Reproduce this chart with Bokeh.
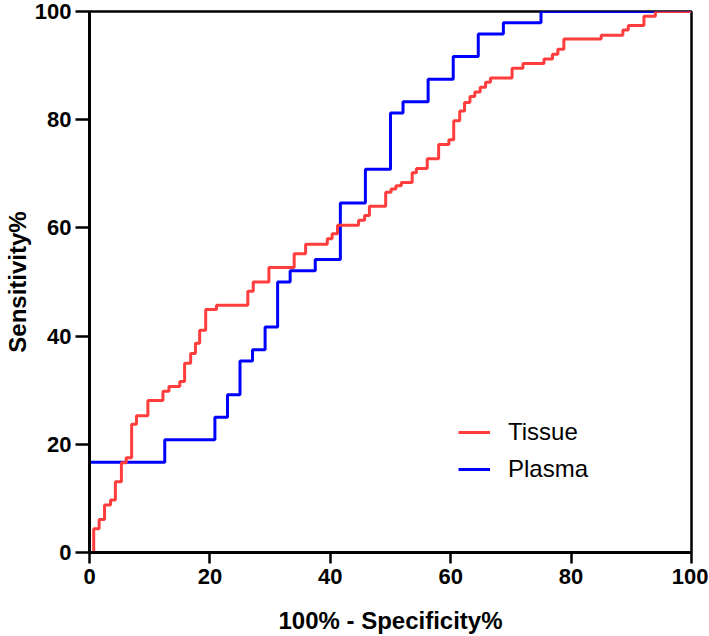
from bokeh.plotting import figure
from bokeh.models import Range1d, Legend, LegendItem, FixedTicker
from bokeh.embed import file_html
from bokeh.resources import INLINE

# ROC corner points (100% - Specificity%, Sensitivity%)
tissue_fpr = [0, 0.7, 1.6, 2.5, 3.5, 4.3, 5.3, 6.1, 7.0, 7.8, 9.7, 12.2, 13.2, 15.0, 15.8,
              16.8, 17.6, 18.3, 19.3, 21.1, 26.3, 27.2, 29.8, 34.0, 35.9, 39.5, 40.3, 41.2,
              44.7, 45.7, 46.5, 49.2, 50.1, 50.9, 51.8, 53.6, 54.3, 56.1, 58.0, 59.7, 60.5,
              61.5, 62.3, 63.2, 64.0, 64.9, 65.8, 66.6, 70.2, 72.0, 75.5, 76.9, 77.8, 78.8,
              85.0, 88.6, 89.5, 92.1, 94.0, 100]
tissue_tpr = [0, 4.4, 6.1, 8.8, 9.7, 13.1, 16.6, 17.5, 23.7, 25.3, 28.1, 29.8, 30.7, 31.6, 35.0,
              36.8, 38.7, 41.1, 44.9, 45.7, 48.3, 50.0, 52.7, 55.2, 57.0, 58.0, 58.9, 60.5,
              61.4, 62.3, 64.0, 66.6, 67.2, 67.8, 68.4, 70.2, 71.0, 72.8, 75.4, 76.3, 79.8,
              81.6, 83.2, 84.3, 85.1, 86.0, 86.9, 87.7, 89.5, 90.4, 91.2, 92.1, 93.0, 94.9,
              95.6, 96.6, 97.4, 99.1, 100, 100]

plasma_fpr = [0, 0, 12.5, 20.83, 22.92, 25.0, 27.08, 29.17, 31.25, 33.33, 37.5, 41.67, 45.83,
              50.0, 52.08, 56.25, 60.42, 64.58, 68.75, 75.0, 100]
plasma_tpr = [0, 16.67, 20.83, 25.0, 29.17, 35.42, 37.5, 41.67, 50.0, 52.08, 54.17, 64.58, 70.83,
              81.25, 83.33, 87.5, 91.67, 95.83, 97.92, 100, 100]

x_ticks = [0, 20, 40, 60, 80, 100]
y_ticks = [0, 20, 40, 60, 80, 100]
series_names = ["Tissue", "Plasma"]
series_colors = ["#FF3D3D", "#0000FF"]

FONT = "Liberation Sans"

p = figure(frame_width=602, frame_height=541, output_backend="svg", toolbar_location=None,
           x_range=Range1d(0, 100), y_range=Range1d(0, 100),
           min_border_left=81, min_border_right=17, min_border_top=11, min_border_bottom=10)

p.xgrid.visible = False
p.ygrid.visible = False
p.background_fill_color = "white"
p.border_fill_color = "white"
p.outline_line_color = "black"
p.outline_line_width = 2.5
p.outline_line_alpha = 1.0

r_p = p.step(plasma_fpr, plasma_tpr, mode="after", line_width=3, color=series_colors[1])
r_t = p.step(tissue_fpr, tissue_tpr, mode="after", line_width=3, color=series_colors[0])

for ax, ticks in ((p.xaxis[0], x_ticks), (p.yaxis[0], y_ticks)):
    ax.ticker = FixedTicker(ticks=ticks)
    ax.minor_tick_line_color = None
    ax.axis_line_width = 3
    ax.axis_line_color = "black"
    ax.major_tick_line_width = 2.5
    ax.major_tick_line_color = "black"
    ax.major_tick_in = 0
    ax.major_label_text_font = FONT
    ax.major_label_text_font_style = "bold"
    ax.major_label_text_font_size = "22px"
    ax.major_label_text_color = "black"
    ax.axis_label_text_font = FONT
    ax.axis_label_text_font_style = "bold"
    ax.axis_label_text_font_size = "24px"
    ax.axis_label_text_color = "black"

p.xaxis.axis_label = "100% - Specificity%"
p.xaxis.major_tick_out = 11
p.xaxis.major_label_standoff = 5
p.xaxis.axis_label_standoff = 20

p.yaxis.axis_label = "Sensitivity%"
p.yaxis.major_tick_out = 14
p.yaxis.major_label_standoff = 4
p.yaxis.axis_label_standoff = 1

legend = Legend(items=[LegendItem(label=series_names[0], renderers=[r_t]),
                       LegendItem(label=series_names[1], renderers=[r_p])],
                location=(369, 68))
legend.border_line_color = None
legend.background_fill_alpha = 0
legend.padding = 0
legend.margin = 0
legend.spacing = 7
legend.glyph_width = 32
legend.glyph_height = 30
legend.label_height = 30
legend.label_standoff = 18
legend.label_text_font = FONT
legend.label_text_font_size = "24px"
legend.label_text_color = "black"
p.add_layout(legend)

open("out.html", "w").write(file_html(p, INLINE))
